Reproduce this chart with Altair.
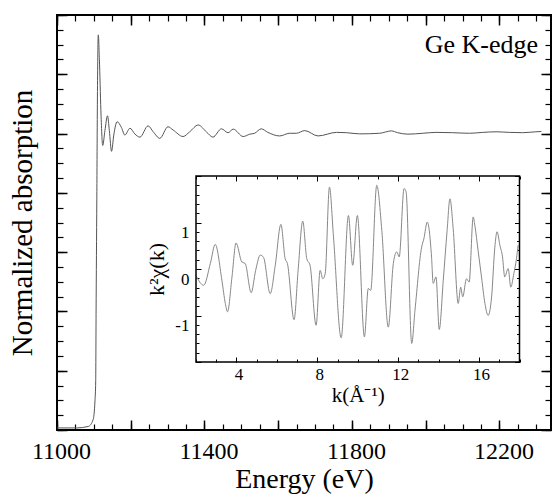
import altair as alt
import pandas as pd

# ---------------- data ----------------
energy = [11000, 11053, 11085, 11098, 11103, 11105, 11106, 11108, 11110, 11112,
          11115, 11119, 11124, 11130, 11137, 11142, 11148, 11154, 11163, 11175,
          11184, 11198, 11211, 11225, 11247, 11261, 11279, 11301, 11315, 11342,
          11360, 11383, 11405, 11423, 11446, 11464, 11478, 11505, 11523, 11536,
          11554, 11572, 11604, 11631, 11649, 11672, 11708, 11758, 11785, 11821,
          11875, 11907, 11924, 11952, 11992, 12028, 12073, 12119, 12155, 12191,
          12227, 12263, 12299, 12314]
absorption = [0.007, 0.007, 0.012, 0.035, 0.098, 0.165, 0.39, 0.78, 1.18, 1.333,
              1.25, 1.08, 0.96, 1.01, 1.06, 1.01, 0.94, 0.995, 1.04, 1.02,
              0.995, 1.018, 0.999, 0.988, 1.026, 1.006, 0.984, 1.023, 1.012, 0.99,
              1.006, 1.029, 1.006, 0.988, 1.016, 1.003, 1.015, 0.99, 0.998, 1.001,
              1.016, 1.004, 0.992, 1.001, 1.001, 1.01, 0.992, 1.004, 1.003, 0.999,
              1.001, 1.009, 1.003, 0.998, 1.001, 1.004, 1.003, 1.001, 1.004, 1.006,
              1.004, 1.003, 1.006, 1.007]

k_values = [2.00, 2.38, 2.71, 2.95, 3.28, 3.45, 3.56, 3.78, 3.98, 4.27,
            4.43, 4.73, 4.95, 5.18, 5.34, 5.67, 5.92, 6.20, 6.41, 6.52,
            6.85, 7.05, 7.28, 7.48, 7.64, 7.94, 8.14, 8.27, 8.39, 8.60,
            8.80, 9.18, 9.54, 9.75, 9.98, 10.33, 10.52, 10.64, 10.94, 11.19,
            11.51, 11.76, 11.93, 12.05, 12.29, 12.39, 12.67, 12.83, 13.16, 13.27,
            13.44, 13.65, 13.73, 13.87, 14.03, 14.23, 14.42, 14.56, 14.72, 14.97,
            15.09, 15.19, 15.38, 15.51, 15.71, 15.79, 15.96, 16.12, 16.29, 16.45,
            16.62, 16.78, 16.89, 17.03, 17.16, 17.27, 17.44, 17.57, 17.72, 17.85,
            17.93]
chi_values = [-0.14, -0.35, 0.12, 0.53, -0.24, -0.74, -0.92, -0.17, 0.56, 0.15,
              0.12, -0.51, -0.03, 0.30, 0.25, -0.53, 0.08, 0.96, 0.22, 0.12,
              -1.09, -0.03, 1.03, 0.22, 0.08, -1.21, -0.03, -0.21, -0.10, 1.76,
              0.69, -1.48, 1.15, 0.08, 1.15, -1.46, -0.42, -0.46, 1.80, 0.83,
              -1.25, 0.12, 0.37, 0.26, 1.73, 1.66, -1.60, -0.89, 0.47, 0.65,
              1.01, 0.26, -0.31, -0.17, -1.30, -0.24, 0.83, 1.51, 0.87, -0.74,
              -0.39, -0.60, -0.21, -0.28, 1.12, 0.94, 0.37, -0.17, -0.74, -1.00,
              -0.60, 0.47, 0.80, 0.51, 0.26, -0.17, 0.01, -0.39, -0.10, 0.22,
              0.51]

# ticks / labels
x_major = [11000, 11200, 11400, 11600, 11800, 12000, 12200]
x_labels = [11000, 11400, 11800, 12200]
x_minor = list(range(11000, 12341, 50))
y_major = [0, 0.2, 0.4, 0.6, 0.8, 1.0, 1.2, 1.4]
y_minor = [round(i * 0.05, 2) for i in range(29)]
k_major = [4, 8, 12, 16]
k_minor = list(range(2, 19))
chi_major = [-2, -1, 0, 1, 2]
chi_labels = [-1, 0, 1]
chi_minor = [round(-2 + 0.2 * i, 1) for i in range(21)]

E_DOM = [11000, 12340]
MU_DOM = [0, 1.4]
K_DOM = [2, 18]
CHI_DOM = [-2, 2]

annotation = "Ge K-edge"

# ---------------- layout ----------------
W, H = 494, 415
IL, IR, IT, IB = 139, 462.5, 161, 347   # inset box inside plot area (px)
FONT = "Liberation Serif"
MAJ, MIN = 10, 6          # main tick lengths
IMAJ, IMIN = 5, 3         # inset tick lengths

main_df = pd.DataFrame({"E": energy, "mu": absorption})
inset_df = pd.DataFrame({"k": k_values, "chi": chi_values})
main_dom_df = pd.DataFrame({"E": E_DOM, "mu": MU_DOM})
inset_dom_df = pd.DataFrame({"k": K_DOM, "chi": CHI_DOM})
frame_df = pd.DataFrame({"k0": [K_DOM[0]], "k1": [K_DOM[1]],
                         "c0": [CHI_DOM[0]], "c1": [CHI_DOM[1]]})


def ax(orient, values, size, offset, width, **kw):
    d = dict(orient=orient, values=values, tickSize=size, offset=offset,
             domain=False, grid=False, ticks=True, tickColor="black",
             tickWidth=width, labels=False, title=None)
    d.update(kw)
    return alt.Axis(**d)


def lab_expr(vals):
    return f"indexof({vals}, datum.value) >= 0 ? '' + datum.value : ''"


mx = lambda: alt.Scale(domain=E_DOM, nice=False, zero=False)
my = lambda: alt.Scale(domain=MU_DOM, nice=False, zero=False)
ix = lambda: alt.Scale(domain=K_DOM, nice=False, zero=False, range=[IL, IR])
iy = lambda: alt.Scale(domain=CHI_DOM, nice=False, zero=False, range=[IB, IT])

# main curve with bottom/left major axes
main_line = alt.Chart(main_df).mark_line(
    color="#555555", strokeWidth=1, interpolate="monotone"
).encode(
    x=alt.X("E:Q", scale=mx(), axis=ax(
        "bottom", x_major, MAJ, -MAJ, 1.5, labels=True,
        labelExpr=lab_expr(x_labels), labelFont=FONT, labelFontSize=24,
        labelColor="black", labelPadding=9, labelFlush=False, labelOffset=4,
        labelOverlap=False, title="Energy (eV)", titleFont=FONT,
        titleFontSize=28, titleFontWeight="normal", titleColor="black",
        titlePadding=2)),
    y=alt.Y("mu:Q", scale=my(), axis=ax(
        "left", y_major, MAJ, -MAJ, 1.5, title="Normalized absorption",
        titleFont=FONT, titleFontSize=29, titleFontWeight="normal",
        titleColor="black", titlePadding=19)),
)

main_minor_lb = alt.Chart(main_dom_df).mark_point(opacity=0).encode(
    x=alt.X("E:Q", scale=mx(), axis=ax("bottom", x_minor, MIN, -MIN, 1.2)),
    y=alt.Y("mu:Q", scale=my(), axis=ax("left", y_minor, MIN, -MIN, 1.2)),
)
main_major_tr = alt.Chart(main_dom_df).mark_point(opacity=0).encode(
    x=alt.X("E:Q", scale=mx(), axis=ax("top", x_major, MAJ, -MAJ, 1.5)),
    y=alt.Y("mu:Q", scale=my(), axis=ax("right", y_major, MAJ, -MAJ, 1.5)),
)
main_minor_tr = alt.Chart(main_dom_df).mark_point(opacity=0).encode(
    x=alt.X("E:Q", scale=mx(), axis=ax("top", x_minor, MIN, -MIN, 1.2)),
    y=alt.Y("mu:Q", scale=my(), axis=ax("right", y_minor, MIN, -MIN, 1.2)),
)


# inset axis offsets (ticks pointing into the inset)
def off_bottom(t):
    return (IB - H) - t


def off_top(t):
    return -(IT + t)


def off_left(t):
    return -(IL + t)


def off_right(t):
    return (IR - t) - W


inset_line = alt.Chart(inset_df).mark_line(
    color="#888888", strokeWidth=1, interpolate="monotone"
).encode(
    x=alt.X("k:Q", scale=ix(), axis=ax(
        "bottom", k_major, IMAJ, off_bottom(IMAJ), 1, labels=True,
        labelExpr=lab_expr(k_major), labelFont=FONT, labelFontSize=17,
        labelColor="black", labelPadding=4, labelFlush=False, labelOffset=2,
        labelOverlap=False, title="k(Å⁻¹)", titleFont=FONT,
        titleFontSize=21, titleFontWeight="normal", titleColor="black",
        titlePadding=2)),
    y=alt.Y("chi:Q", scale=iy(), axis=ax(
        "left", chi_major, IMAJ, off_left(IMAJ), 1, labels=True,
        labelExpr=lab_expr(chi_labels), labelFont=FONT, labelFontSize=17,
        labelColor="black", labelPadding=7, labelOffset=10,
        labelOverlap=False, labelFlush=False, title="k²χ(k)", titleFont=FONT,
        titleFontSize=22, titleFontWeight="normal", titleColor="black",
        titlePadding=6)),
)
inset_minor_lb = alt.Chart(inset_dom_df).mark_point(opacity=0).encode(
    x=alt.X("k:Q", scale=ix(), axis=ax("bottom", k_minor, IMIN, off_bottom(IMIN), 1)),
    y=alt.Y("chi:Q", scale=iy(), axis=ax("left", chi_minor, IMIN, off_left(IMIN), 1)),
)
inset_major_tr = alt.Chart(inset_dom_df).mark_point(opacity=0).encode(
    x=alt.X("k:Q", scale=ix(), axis=ax("top", k_major, IMAJ, off_top(IMAJ), 1)),
    y=alt.Y("chi:Q", scale=iy(), axis=ax("right", chi_major, IMAJ, off_right(IMAJ), 1)),
)
inset_minor_tr = alt.Chart(inset_dom_df).mark_point(opacity=0).encode(
    x=alt.X("k:Q", scale=ix(), axis=ax("top", k_minor, IMIN, off_top(IMIN), 1)),
    y=alt.Y("chi:Q", scale=iy(), axis=ax("right", chi_minor, IMIN, off_right(IMIN), 1)),
)
inset_frame = alt.Chart(frame_df).mark_rect(
    fillOpacity=0, stroke="black", strokeWidth=1.5
).encode(
    x=alt.X("k0:Q", scale=ix(), axis=None),
    x2="k1:Q",
    y=alt.Y("c0:Q", scale=iy(), axis=None),
    y2="c1:Q",
)

label = alt.Chart(pd.DataFrame({"t": [annotation]})).mark_text(
    font=FONT, fontSize=26, color="black", align="right", baseline="alphabetic"
).encode(text="t:N", x=alt.value(481), y=alt.value(38))

chart = alt.layer(
    main_line, main_minor_lb, main_major_tr, main_minor_tr,
    inset_line, inset_minor_lb, inset_major_tr, inset_minor_tr,
    inset_frame, label,
).resolve_scale(
    x="independent", y="independent"
).properties(
    width=W, height=H,
    autosize=alt.AutoSizeParams(type="none"),
    padding={"left": 57, "top": 15, "right": 1, "bottom": 66},
    background="white",
).configure_view(stroke="black", strokeWidth=2)

chart.save("out.html", embed_options={"renderer": "svg", "actions": False})
